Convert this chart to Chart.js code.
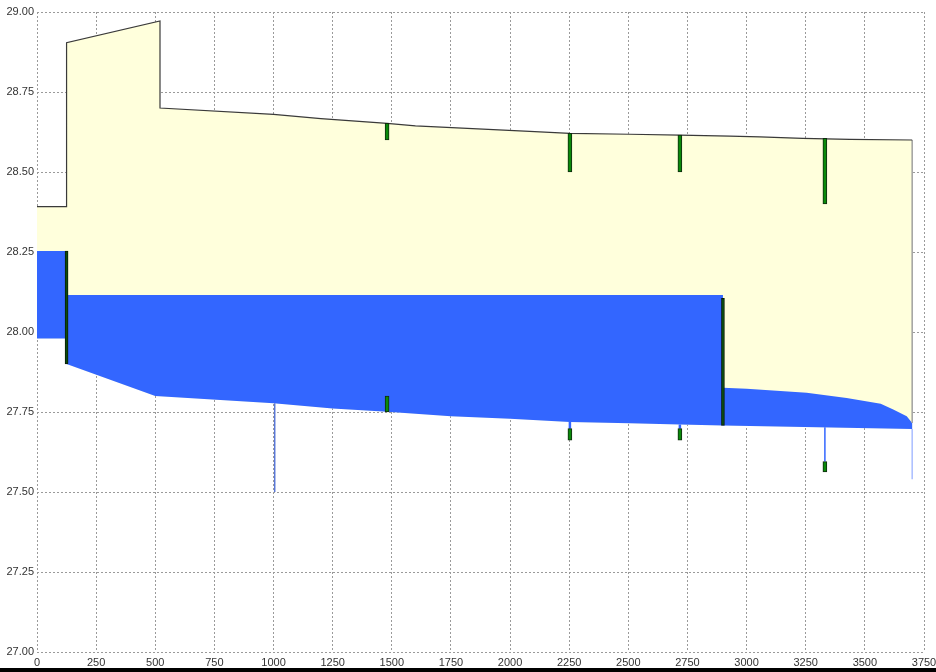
<!DOCTYPE html>
<html>
<head>
<meta charset="utf-8">
<script src="https://cdn.jsdelivr.net/npm/chart.js@4/dist/chart.umd.min.js"></script>
<style>
  html, body { margin: 0; padding: 0; background: #ffffff; }
  #wrap { position: relative; width: 936px; height: 668px; }
  #bar { width: 936px; height: 4px; background: #000; }
</style>
</head>
<body>
<div id="wrap"><canvas id="c" width="936" height="668"></canvas></div>
<div id="bar"></div>
<script>
// ---------- data ----------
const xTickValues = [0,250,500,750,1000,1250,1500,1750,2000,2250,2500,2750,3000,3250,3500,3750];
const yTickValues = [27.00,27.25,27.50,27.75,28.00,28.25,28.50,28.75,29.00];

// upper outline (crown / ground line)
const topX = [0,125,125,520,520,1000,1200,1480,1600,2083,2253,2506,2718,2929,3056,3237,3436,3700];
const topY = [28.392,28.392,28.904,28.972,28.700,28.680,28.667,28.652,28.644,28.627,28.621,28.618,28.615,28.612,28.610,28.605,28.602,28.600];

// bed (invert) line
const bedX = [125,500,1000,1250,1480,1750,2000,2253,2506,2718,2900,3300,3700];
const bedY = [27.900,27.800,27.777,27.761,27.751,27.737,27.729,27.719,27.715,27.711,27.708,27.702,27.697];

// inlet chamber water block
const inletX = [0,125];
const inletTop = 28.253;
const inletBottom = 27.980;

// pressurised reach water level
const reachX = [125,2900];
const reachLevel = 28.116;

// free-surface reach water level
const surfaceX = [2900,3000,3254,3423,3567,3620,3677,3700];
const surfaceY = [27.826,27.823,27.810,27.794,27.776,27.758,27.737,27.716];

// green node markers
const markerX  = [1480,1480,2253,2253,2718,2718,3331,3331];
const markerLo = [28.600,27.750,28.500,27.662,28.500,27.662,28.400,27.563];
const markerHi = [28.652,27.800,28.621,27.698,28.615,27.698,28.605,27.595];

// dark structure lines
const wallX  = [125,2900];
const wallLo = [27.900,27.708];
const wallHi = [28.253,28.105];

// thin blue stems
const stemX   = [1005,2253,2718,3331];
const stemTop = [27.777,27.719,27.711,27.702];
const stemBot = [27.500,27.698,27.698,27.595];
const outletX = [3700];
const outletTop = [27.697];
const outletBot = [27.540];

// ---------- build library data ----------
const pts = (xs, ys) => xs.map((x, i) => ({x, y: ys[i]}));
const topPts = pts(topX, topY);
const bedPts = pts(bedX, bedY);

const yellowPoly = topPts
  .concat([{x: topX[topX.length-1], y: bedY[bedY.length-1]}])
  .concat(bedPts.slice().reverse())
  .concat([{x: inletX[1], y: inletBottom}, {x: inletX[0], y: inletBottom}]);

const inletPoly = [
  {x: inletX[0], y: inletTop}, {x: inletX[1], y: inletTop},
  {x: inletX[1], y: inletBottom}, {x: inletX[0], y: inletBottom}
];

const reachBed = bedPts.filter(p => p.x >= reachX[0] && p.x <= reachX[1]);
const reachPoly = [{x: reachX[0], y: reachLevel}, {x: reachX[1], y: reachLevel}]
  .concat(reachBed.slice().reverse());

const surfBed = bedPts.filter(p => p.x >= surfaceX[0] && p.x <= surfaceX[surfaceX.length-1]);
const surfPoly = pts(surfaceX, surfaceY).concat(surfBed.slice().reverse());

const rightEdge = [{x: topX[topX.length-1], y: topY[topY.length-1]}, {x: surfaceX[surfaceX.length-1], y: surfaceY[surfaceY.length-1]}];

const stemDatasets = stemX.map((x, i) => ({
  type: 'line', data: [{x, y: stemTop[i]}, {x, y: stemBot[i]}],
  showLine: true, pointRadius: 0, borderColor: i === 0 ? '#5a78d6' : '#3366ff',
  borderWidth: i === 0 ? 1.5 : (i === 3 ? 1.5 : 2.5), fill: false, order: 2
}));
const outletDatasets = outletX.map((x, i) => ({
  type: 'line', data: [{x, y: outletTop[i]}, {x, y: outletBot[i]}],
  showLine: true, pointRadius: 0, borderColor: '#a9bdff', borderWidth: 1.5, fill: false, order: 2
}));

const polyDs = (data, color, order) => ({
  type: 'line', data, showLine: true, pointRadius: 0, borderWidth: 0,
  borderColor: 'rgba(0,0,0,0)', backgroundColor: color, fill: 'shape', order, tension: 0
});

const tickFont = { family: "'Liberation Sans Narrow', 'Liberation Sans', Arial, sans-serif", size: 11 };

new Chart(document.getElementById('c'), {
  type: 'scatter',
  data: {
    datasets: [
      polyDs(yellowPoly, '#ffffdc', 10),
      polyDs(inletPoly, '#3366ff', 6),
      polyDs(reachPoly, '#3366ff', 6),
      polyDs(surfPoly, '#3366ff', 6),
      { type: 'line', data: topPts, showLine: true, pointRadius: 0, borderColor: '#3a3a3a', borderWidth: 1.2, fill: false, order: 4 },
      { type: 'line', data: rightEdge, showLine: true, pointRadius: 0, borderColor: '#a0a0a0', borderWidth: 1.5, fill: false, order: 4 },
      ...stemDatasets,
      ...outletDatasets,
      { type: 'bar', data: markerX.map((x, i) => ({x, y: [markerLo[i], markerHi[i]]})),
        grouped: false, barThickness: 4, borderSkipped: false, borderWidth: 1,
        borderColor: '#0f2a0f', backgroundColor: '#0a8a0a', order: 1 },
      { type: 'bar', data: wallX.map((x, i) => ({x, y: [wallLo[i], wallHi[i]]})),
        grouped: false, barThickness: 3, borderSkipped: false, borderWidth: 1,
        borderColor: '#0a1a0a', backgroundColor: '#0b4d0b', order: 1 }
    ]
  },
  options: {
    responsive: false,
    animation: false,
    events: [],
    layout: { padding: { top: 12, right: 12, left: 0, bottom: 0 } },
    plugins: { legend: { display: false }, tooltip: { enabled: false } },
    scales: {
      x: {
        type: 'linear', min: 0, max: 3750, offset: false,
        afterBuildTicks: s => { s.ticks = xTickValues.map(v => ({value: v})); },
        afterFit: s => { s.height = 16; s.paddingLeft = 0; s.paddingRight = 0; },
        grid: { color: '#9a9a9a', lineWidth: 1, drawTicks: false, offset: false },
        border: { display: false, dash: [2,2] },
        ticks: { autoSkip: false, maxRotation: 0, padding: 4, color: '#333', font: tickFont,
                 callback: v => String(v) }
      },
      y: {
        type: 'linear', min: 27, max: 29,
        afterBuildTicks: s => { s.ticks = yTickValues.map(v => ({value: v})); },
        afterFit: s => { s.width = 37; s.paddingTop = 0; s.paddingBottom = 0; },
        grid: { color: '#9a9a9a', lineWidth: 1, drawTicks: false },
        border: { display: false, dash: [2,2] },
        ticks: { padding: 3, color: '#333', font: tickFont,
                 callback: v => Number(v).toFixed(2) }
      }
    }
  }
});
</script>
</body>
</html>
